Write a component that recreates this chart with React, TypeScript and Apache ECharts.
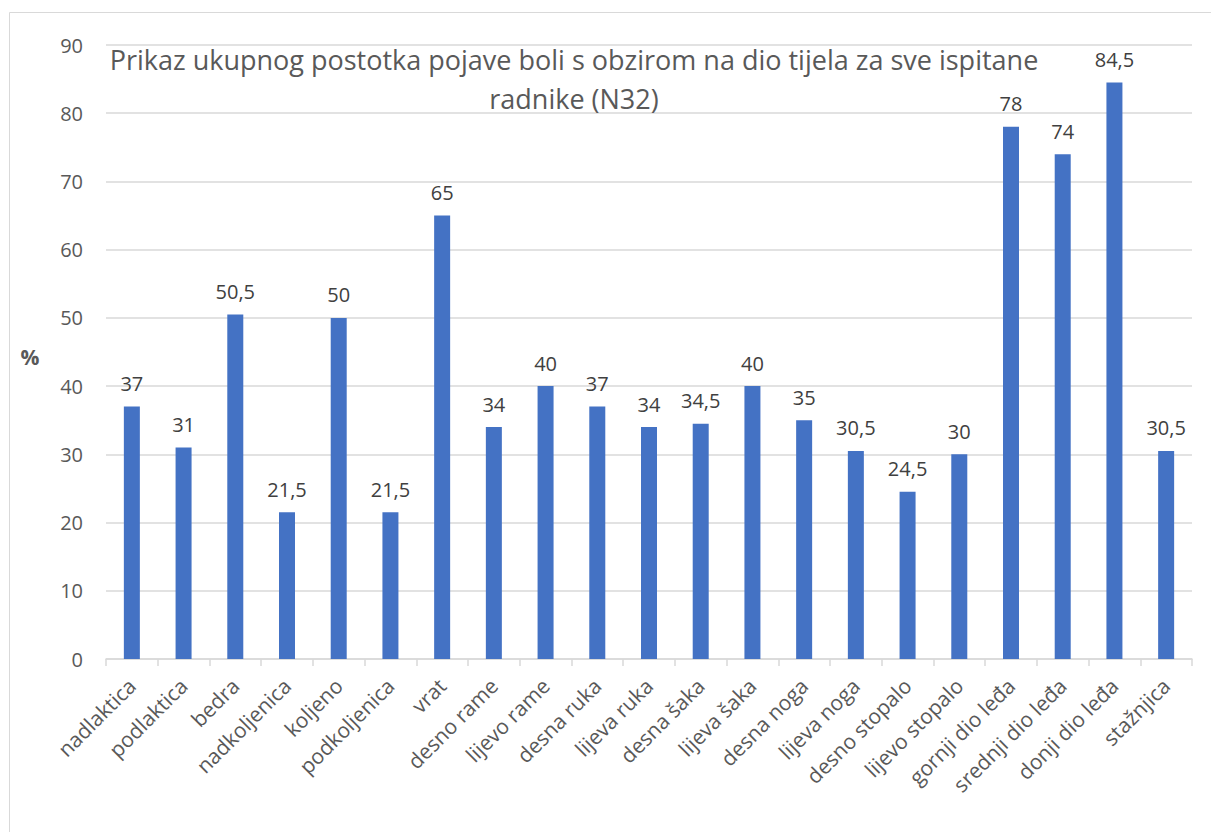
import React, { useEffect, useRef } from "react";
import * as echarts from "echarts";

const categories = [
  "nadlaktica", "podlaktica", "bedra", "nadkoljenica", "koljeno", "podkoljenica", "vrat",
  "desno rame", "lijevo rame", "desna ruka", "lijeva ruka", "desna šaka", "lijeva šaka",
  "desna noga", "lijeva noga", "desno stopalo", "lijevo stopalo", "gornji dio leđa",
  "srednji dio leđa", "donji dio leđa", "stažnjica",
];
const values = [37, 31, 50.5, 21.5, 50, 21.5, 65, 34, 40, 37, 34, 34.5, 40, 35, 30.5, 24.5, 30, 78, 74, 84.5, 30.5];
const titleText = "Prikaz ukupnog postotka pojave boli s obzirom na dio tijela za sve ispitane\nradnike (N32)";
const yName = "%";

const FONT = "'Open Sans', 'Noto Sans', sans-serif";

export default function App() {
  const ref = useRef<HTMLDivElement>(null);
  useEffect(() => {
    const chart = echarts.init(ref.current!, null, { renderer: "svg" });
    chart.setOption({
      animation: false,
      backgroundColor: "#ffffff",
      textStyle: { fontFamily: FONT },
      grid: { left: 106, right: 19, top: 45, bottom: 173, containLabel: false },
      graphic: [
        {
          type: "rect",
          shape: { x: 9.5, y: 12.5, width: 1260, height: 900 },
          style: { fill: "none", stroke: "#d9d9d9", lineWidth: 1 },
          silent: true,
          z: -10,
        },
        {
          type: "text",
          x: 574,
          y: 40,
          style: {
            text: titleText,
            fill: "#595959",
            fontFamily: FONT,
            fontSize: 27,
            align: "center",
            verticalAlign: "top",
            lineHeight: 39,
          },
          z: 10,
        },
        {
          type: "text",
          x: 30,
          y: 357,
          style: {
            text: yName,
            fill: "#595959",
            fontFamily: FONT,
            fontSize: 21,
            fontWeight: "bold",
            align: "center",
            verticalAlign: "middle",
          },
        },
      ],
      xAxis: {
        type: "category",
        data: categories,
        axisLine: { lineStyle: { color: "#d9d9d9", width: 1.5 } },
        axisTick: { show: true, length: 7, lineStyle: { color: "#d9d9d9", width: 1.5 } },
        axisLabel: {
          rotate: 45,
          interval: 0,
          color: "#595959",
          fontSize: 21,
          fontFamily: FONT,
          margin: 23,
        },
      },
      yAxis: {
        type: "value",
        min: 0,
        max: 90,
        interval: 10,
        axisLine: { show: false },
        axisTick: { show: false },
        splitLine: { lineStyle: { color: "#d9d9d9", width: 1.5 } },
        axisLabel: { color: "#595959", fontSize: 20, fontFamily: FONT, margin: 23 },
      },
      series: [
        {
          type: "bar",
          data: values,
          barWidth: 16,
          itemStyle: { color: "#4472C4" },
          label: {
            show: true,
            position: "top",
            distance: 13,
            color: "#404040",
            fontSize: 20,
            fontFamily: FONT,
            formatter: (p: any) => String(p.value).replace(".", ","),
          },
        },
      ],
    });
    return () => chart.dispose();
  }, []);
  return <div ref={ref} style={{ width: 1211, height: 832, position: "absolute", left: 0, top: 0 }} />;
}
